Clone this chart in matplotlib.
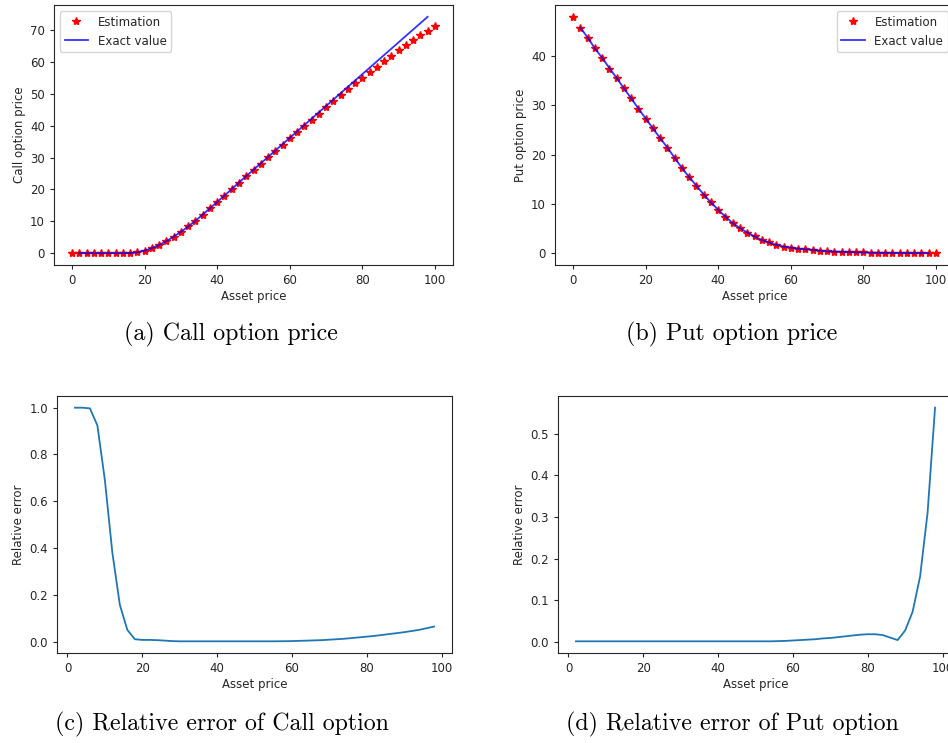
import matplotlib
matplotlib.use("Agg")
import matplotlib.pyplot as plt

# ---------------- data ----------------
asset_est = list(range(0, 101, 2))      # 51 points
asset_exact = list(range(2, 99, 2))     # 49 points

call_est = [0.1, 0.1, 0.1, 0.1, 0.1, 0.1, 0.1, 0.1, 0.1, 0.3,
            0.8, 1.6, 2.6, 3.8, 5.2, 6.7, 8.4, 10.2, 12.1, 14.1,
            16.1, 18.1, 20.1, 22.1, 24.1, 26.1, 28.1, 30.1, 32.1, 34.1,
            36.1, 38.0, 40.0, 41.9, 43.8, 45.8, 47.7, 49.6, 51.5, 53.4,
            55.0, 56.8, 58.5, 60.3, 62.0, 63.7, 65.3, 66.9, 68.4, 69.9,
            71.4]
call_exact = [0.0, 0.0, 0.0, 0.0, 0.0, 0.0, 0.0, 0.05, 0.3,
              0.8, 1.6, 2.6, 3.8, 5.2, 6.7, 8.4, 10.2, 12.1, 14.1,
              16.1, 18.1, 20.1, 22.2, 24.2, 26.2, 28.2, 30.2, 32.2, 34.2,
              36.2, 38.2, 40.2, 42.2, 44.2, 46.2, 48.2, 50.2, 52.2, 54.2,
              56.2, 58.2, 60.2, 62.2, 64.2, 66.2, 68.2, 70.2, 72.2, 74.2]

put_est = [47.9, 45.7, 43.7, 41.5, 39.6, 37.4, 35.5, 33.4, 31.4, 29.2,
           27.3, 25.3, 23.3, 21.4, 19.2, 17.2, 15.4, 13.7, 11.8, 10.3,
           8.8, 7.3, 6.1, 5.1, 4.2, 3.4, 2.7, 2.2, 1.7, 1.35,
           1.15, 0.95, 0.8, 0.7, 0.55, 0.4, 0.35, 0.3, 0.25, 0.2,
           0.17, 0.14, 0.11, 0.09, 0.07, 0.06, 0.05, 0.04, 0.03, 0.02,
           0.02]
put_exact = [45.7, 43.7, 41.5, 39.6, 37.5, 35.5, 33.4, 31.4, 29.3,
             27.3, 25.3, 23.3, 21.4, 19.3, 17.3, 15.4, 13.7, 11.9, 10.3,
             8.8, 7.4, 6.1, 5.1, 4.2, 3.4, 2.7, 2.2, 1.7, 1.35,
             1.15, 0.95, 0.8, 0.7, 0.55, 0.4, 0.35, 0.3, 0.25, 0.2,
             0.17, 0.14, 0.11, 0.09, 0.07, 0.06, 0.05, 0.04, 0.03, 0.02]

call_rel_err = [1.0, 1.0, 0.997, 0.924, 0.69, 0.38, 0.157, 0.05, 0.01,
                0.007, 0.007, 0.006, 0.004, 0.002, 0.001, 0.001, 0.001, 0.001, 0.001,
                0.001, 0.001, 0.001, 0.001, 0.001, 0.001, 0.001, 0.001, 0.0012, 0.0015,
                0.002, 0.003, 0.004, 0.005, 0.006, 0.008, 0.010, 0.012, 0.015, 0.018,
                0.021, 0.024, 0.028, 0.032, 0.036, 0.040, 0.045, 0.050, 0.057, 0.064]
put_rel_err = [0.001, 0.001, 0.001, 0.001, 0.001, 0.001, 0.001, 0.001, 0.001,
               0.001, 0.001, 0.001, 0.001, 0.001, 0.001, 0.001, 0.001, 0.001, 0.001,
               0.001, 0.001, 0.001, 0.001, 0.001, 0.001, 0.001, 0.001, 0.0015, 0.002,
               0.003, 0.004, 0.005, 0.006, 0.008, 0.009, 0.011, 0.013, 0.015, 0.017,
               0.018, 0.018, 0.016, 0.010, 0.004, 0.027, 0.072, 0.157, 0.31, 0.563]

call_yticks = [0, 10, 20, 30, 40, 50, 60, 70]
put_yticks = [0, 10, 20, 30, 40]
call_err_yticks = [0.0, 0.2, 0.4, 0.6, 0.8, 1.0]
put_err_yticks = [0.0, 0.1, 0.2, 0.3, 0.4, 0.5]

captions = ["(a) Call option price", "(b) Put option price",
            "(c) Relative error of Call option", "(d) Relative error of Put option"]

# ---------------- figure ----------------
W, H = 948, 743
plt.rcParams.update({
    "font.family": "DejaVu Sans",
    "font.size": 8.5,
    "axes.linewidth": 0.8,
    "xtick.major.width": 0.8,
    "ytick.major.width": 0.8,
    "xtick.major.size": 3.0,
    "ytick.major.size": 3.0,
    "xtick.labelsize": 8.5,
    "ytick.labelsize": 8.5,
    "legend.fontsize": 8.5,
    "text.color": "#262626",
    "xtick.color": "#262626",
    "ytick.color": "#262626",
    "axes.labelcolor": "#262626",
    "axes.edgecolor": "#262626",
})
fig = plt.figure(figsize=(W / 100, H / 100), dpi=100)


def add_ax(left, top, right, bottom):
    return fig.add_axes([left / W, 1 - bottom / H, (right - left) / W, (bottom - top) / H])


lw = 1.3
ms = 6.0

ax1 = add_ax(54, 5, 453, 265)
ax1.plot(asset_est, call_est, "r*", ms=ms, label="Estimation")
ax1.plot(asset_exact, call_exact, "-", color="blue", alpha=0.8, lw=lw, label="Exact value")
ax1.set_xlabel("Asset price", labelpad=2)
ax1.set_ylabel("Call option price", labelpad=3)
ax1.set_yticks(call_yticks)
ax1.legend(loc="upper left")

ax2 = add_ax(555, 5, 954, 265)
ax2.plot(asset_est, put_est, "r*", ms=ms, label="Estimation")
ax2.plot(asset_exact, put_exact, "-", color="blue", alpha=0.8, lw=lw, label="Exact value")
ax2.set_xlabel("Asset price", labelpad=2)
ax2.set_ylabel("Put option price", labelpad=3)
ax2.set_yticks(put_yticks)
ax2.legend(loc="upper right")

ax3 = add_ax(57, 396, 452, 653)
ax3.plot(asset_exact, call_rel_err, "-", color="#1f77b4", lw=lw)
ax3.set_xlabel("Asset price", labelpad=2)
ax3.set_ylabel("Relative error", labelpad=3)
ax3.set_yticks(call_err_yticks)

ax4 = add_ax(558, 396, 953, 653)
ax4.plot(asset_exact, put_rel_err, "-", color="#1f77b4", lw=lw)
ax4.set_xlabel("Asset price", labelpad=2)
ax4.set_ylabel("Relative error", labelpad=3)
ax4.set_yticks(put_err_yticks)

cap_pos = [(231, 334), (732, 334), (222, 724), (732, 724)]
for (cx, cy), txt in zip(cap_pos, captions):
    fig.text(cx / W, 1 - cy / H, txt, ha="center", va="center",
             fontfamily="cmr10", fontsize=17.2, color="black")

fig.savefig("out.png", dpi=100)
